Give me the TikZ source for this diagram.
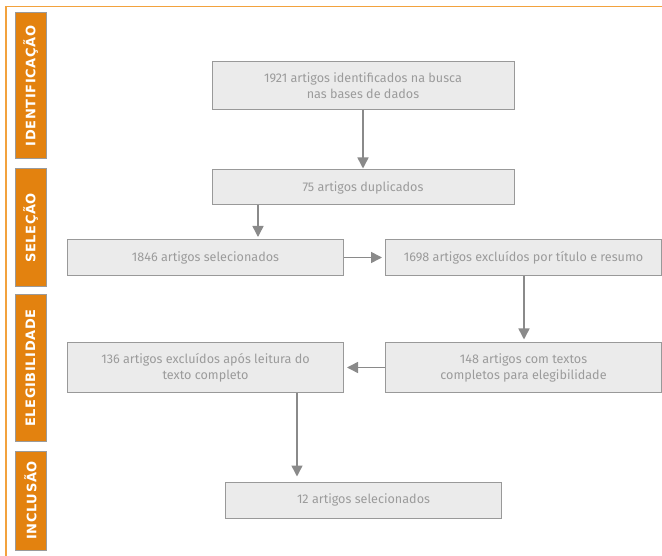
\documentclass[tikz,border=0pt]{standalone}
\usepackage{fontspec}
\setmainfont{Fira Sans}
\newfontfamily\barfont[LetterSpace=5]{DejaVu Sans}
\usetikzlibrary{arrows.meta,calc}
\definecolor{frameor}{HTML}{F2A23E}
\definecolor{baror}{HTML}{E3820F}
\definecolor{bargray}{HTML}{9A9A9A}
\definecolor{boxfill}{HTML}{EBEBEB}
\definecolor{boxline}{HTML}{999999}
\definecolor{boxtext}{HTML}{9B9B9B}
\definecolor{arrgray}{HTML}{8A8A8A}
\tikzset{
  stagebar/.style={draw=bargray, line width=1pt, fill=baror},
  stagetext/.style={rotate=90, text=white, font=\barfont\bfseries\fontsize{13}{15}\selectfont, inner sep=0pt},
  flowbox/.style={draw=boxline, line width=1pt, fill=boxfill, text=boxtext,
    font=\fontsize{12.6}{16}\selectfont, align=center, inner sep=0pt},
  flowarr/.style={draw=arrgray, line width=1.5pt, -{Triangle[length=11pt,width=11pt]}},
}
\begin{document}
\begin{tikzpicture}[x=1pt,y=-1pt]
\useasboundingbox (0,0) rectangle (662,556);
% frame
\draw[frameor, line width=1.5pt] (6,556) -- (6,6.5) -- (662,6.5);
% stage bars
\draw[stagebar] (15,13) rectangle (46,159);
\node[stagetext] (s1) at (30.5,86) {IDENTIFICAÇÃO};
\draw[stagebar] (15,169) rectangle (46,287);
\node[stagetext] (s2) at (30.5,228) {SELEÇÃO};
\draw[stagebar] (15,295) rectangle (46,441);
\node[stagetext] (s3) at (30.5,368) {ELEGIBILIDADE};
\draw[stagebar] (15,451) rectangle (46,550);
\node[stagetext] (s4) at (30.5,500.5) {INCLUSÃO};
% boxes
\node[flowbox, minimum width=302pt, minimum height=48pt] (b1) at (363,86)
  {1921 artigos identificados na busca\\nas bases de dados};
\node[flowbox, minimum width=302pt, minimum height=35pt] (b2) at (363,187.5)
  {75 artigos duplicados};
\node[flowbox, minimum width=276pt, minimum height=36pt] (b3) at (205.5,257.5)
  {1846 artigos selecionados};
\node[flowbox, minimum width=276pt, minimum height=36pt] (b4) at (523.5,257.5)
  {1698 artigos excluídos por título e resumo};
\node[flowbox, minimum width=276pt, minimum height=49pt] (b5) at (523.5,367.5)
  {148 artigos com textos\\completos para elegibilidade};
\node[flowbox, minimum width=276pt, minimum height=49pt] (b6) at (205.5,367.5)
  {136 artigos excluídos após leitura do\\texto completo};
\node[flowbox, minimum width=276pt, minimum height=36pt] (b7) at (363.5,500)
  {12 artigos selecionados};
% arrow columns
\coordinate (c2) at (258,0);
\coordinate (c4) at (524,0);
\coordinate (c6) at (297,0);
% arrows
\draw[flowarr, shorten >=1pt] (b1.south) -- (b2.north);
\draw[flowarr, shorten >=2pt] (b2.south -| c2) -- (b3.north -| c2);
\draw[flowarr, shorten >=3pt] (b3.east) -- (b4.west);
\draw[flowarr, shorten >=3pt] (b4.south -| c4) -- (b5.north -| c4);
\draw[flowarr, shorten >=3pt] (b5.west) -- (b6.east);
\draw[flowarr, shorten >=5pt] (b6.south -| c6) -- (b7.north -| c6);
\end{tikzpicture}
\end{document}
